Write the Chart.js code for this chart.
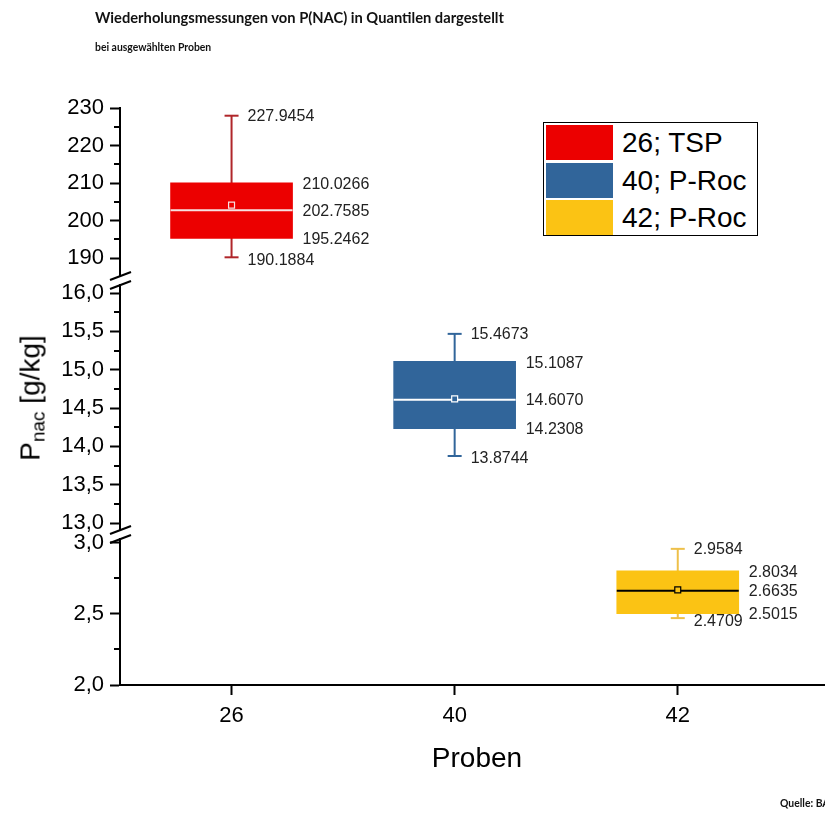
<!DOCTYPE html>
<html>
<head>
<meta charset="utf-8">
<title>Wiederholungsmessungen von P(NAC)</title>
<script src="https://cdn.jsdelivr.net/npm/chart.js@4.4.1/dist/chart.umd.min.js"></script>
<style>
  html, body { margin: 0; padding: 0; background: #fff; overflow: hidden; }
  body { width: 825px; height: 814px; position: relative; font-family: "Liberation Sans", Arial, sans-serif; }
  #wrap { position: absolute; left: 0; top: 0; width: 825px; height: 814px; }
  .title { position: absolute; left: 95px; top: 8px; font: 700 14.7px Lato, "Open Sans", sans-serif; color: #111; white-space: nowrap; }
  .subtitle { position: absolute; left: 95px; top: 41px; font: 700 10.4px Lato, "Open Sans", sans-serif; color: #111; white-space: nowrap; }
  .source { position: absolute; left: 780px; top: 797px; font: 700 10.4px Lato, "Open Sans", sans-serif; color: #111; white-space: nowrap; }
  .xtitle { position: absolute; left: 477px; top: 758px; transform: translate(-50%, -50%); font-size: 28px; color: #000; white-space: nowrap; }
  .ytitle { position: absolute; left: 32px; top: 398px; transform: translate(-50%, -50%) rotate(-90deg); font-size: 28px; color: #000; white-space: nowrap; }
  .ytitle sub { font-size: 19px; vertical-align: -5px; }
  #legend { position: absolute; left: 543px; top: 122px; width: 213px; height: 112px; border: 1.5px solid #000; background: #fff; }
  .row { position: absolute; left: 2px; height: 35px; width: 210px; }
  .swatch { position: absolute; left: 0; top: 0; width: 67px; height: 35px; }
  .label { position: absolute; left: 76px; top: 0; line-height: 35px; font-size: 28px; color: #000; white-space: nowrap; }
</style>
</head>
<body>
<div id="wrap"><canvas id="chart"></canvas></div>
<div class="title">Wiederholungsmessungen von P(NAC) in Quantilen dargestellt</div>
<div class="subtitle">bei ausgewählten Proben</div>
<div class="ytitle">P<sub>nac</sub> [g/kg]</div>
<div class="xtitle">Proben</div>
<div id="legend"></div>
<div class="source">Quelle: BA</div>
<script>
// values
const samples = ["26", "40", "42"];
const sampleNames = ["26; TSP", "40; P-Roc", "42; P-Roc"];
const whiskerLow = [190.1884, 13.8744, 2.4709];
const quartile1 = [195.2462, 14.2308, 2.5015];
const medians = [202.7585, 14.6070, 2.6635];
const quartile3 = [210.0266, 15.1087, 2.8034];
const whiskerHigh = [227.9454, 15.4673, 2.9584];
const means = [204.1, 14.62, 2.67];

const topTicks = [190, 200, 210, 220, 230];
const topMinor = [195, 205, 215, 225];
const midTicks = [13.0, 13.5, 14.0, 14.5, 15.0, 15.5, 16.0];
const midMinor = [13.25, 13.75, 14.25, 14.75, 15.25, 15.75];
const lowTicks = [2.0, 2.5, 3.0];
const lowMinor = [2.25, 2.75];

const boxColors = ["#ec0000", "#31659a", "#fbc314"];
const whiskerColors = ["#b0262a", "#31659a", "#eec04a"];
const medianColors = ["#f6e0e0", "#ffffff", "#000000"];
const axisIds = ["yTop", "yMid", "yLow"];

const BOX_W = 122;
const CAP_R = 7;

function commaFmt(v) {
  return v.toFixed(1).replace(".", ",");
}

// legend
const legend = document.getElementById("legend");
sampleNames.forEach((name, i) => {
  const row = document.createElement("div");
  row.className = "row";
  row.style.top = `${2 + i * 37.5}px`;
  row.innerHTML = `<div class="swatch" style="background:${boxColors[i]}"></div><div class="label">${name}</div>`;
  legend.appendChild(row);
});

const datasets = [];
samples.forEach((s, i) => {
  // whisker stem with caps
  datasets.push({
    type: "line",
    yAxisID: axisIds[i],
    data: [{ x: i, y: whiskerLow[i] }, { x: i, y: whiskerHigh[i] }],
    borderColor: whiskerColors[i],
    borderWidth: 2,
    pointStyle: "line",
    pointRadius: CAP_R,
    pointBorderColor: whiskerColors[i],
    pointBorderWidth: 2,
    order: 3,
  });
  // box
  datasets.push({
    type: "bar",
    yAxisID: axisIds[i],
    data: [{ x: i, y: [quartile1[i], quartile3[i]] }],
    backgroundColor: boxColors[i],
    borderWidth: 0,
    barThickness: BOX_W,
    grouped: false,
    order: 2,
  });
  // median + mean marker
  datasets.push({
    type: "line",
    yAxisID: axisIds[i],
    showLine: false,
    data: [{ x: i, y: medians[i] }, { x: i, y: means[i] }],
    pointStyle: ["line", "rect"],
    pointRadius: [BOX_W / 2, 4.2],
    pointBorderColor: medianColors[i],
    pointBackgroundColor: boxColors[i],
    pointBorderWidth: [2, 1.2],
    order: 1,
  });
});

function yScale(ticks, fmt, min, max, weight) {
  return {
    type: "linear",
    position: "left",
    stack: "ybreak",
    stackWeight: weight,
    min,
    max,
    border: { display: true, color: "#000", width: 2 },
    grid: { display: true, drawOnChartArea: false, drawTicks: true, tickLength: 10, tickWidth: 2, tickColor: "#000" },
    ticks: { color: "#000", font: { family: "'Liberation Sans', Arial", size: 22 }, padding: 6, autoSkip: false, callback: fmt },
    afterBuildTicks: (scale) => { scale.ticks = ticks.map((v) => ({ value: v })); },
    afterFit: (scale) => { scale.width = 120; },
  };
}

const extras = {
  id: "extras",
  afterDraw(chart) {
    const ctx = chart.ctx;
    const xs = chart.scales.x;
    const left = chart.chartArea.left;
    ctx.save();
    // minor ticks
    ctx.strokeStyle = "#000";
    ctx.lineWidth = 2;
    [[topMinor, "yTop"], [midMinor, "yMid"], [lowMinor, "yLow"]].forEach(([vals, id]) => {
      vals.forEach((v) => {
        const y = Math.round(chart.scales[id].getPixelForValue(v));
        ctx.beginPath();
        ctx.moveTo(left - 6, y);
        ctx.lineTo(left, y);
        ctx.stroke();
      });
    });
    // axis breaks
    const breaks = [[276, 285], [530, 539]];
    breaks.forEach(([s1, s2]) => {
      ctx.fillStyle = "#fff";
      ctx.fillRect(left - 5, s1 + 1, 10, s2 - s1 - 2);
      ctx.strokeStyle = "#000";
      ctx.lineWidth = 2;
      [s1, s2].forEach((y) => {
        ctx.beginPath();
        ctx.moveTo(left - 10, y + 4);
        ctx.lineTo(left + 11, y - 4);
        ctx.stroke();
      });
    });
    // value labels
    ctx.fillStyle = "#222";
    ctx.font = "16px 'Liberation Sans', Arial";
    ctx.textBaseline = "middle";
    ctx.textAlign = "left";
    samples.forEach((s, i) => {
      const ys = chart.scales[axisIds[i]];
      const cx = xs.getPixelForValue(i);
      const capX = cx + CAP_R + 9;
      const boxX = cx + BOX_W / 2 + 10;
      ctx.fillText(whiskerHigh[i].toFixed(4), capX, ys.getPixelForValue(whiskerHigh[i]) + 1);
      ctx.fillText(quartile3[i].toFixed(4), boxX, ys.getPixelForValue(quartile3[i]) + 2);
      ctx.fillText(medians[i].toFixed(4), boxX, ys.getPixelForValue(medians[i]) + 1);
      ctx.fillText(quartile1[i].toFixed(4), boxX, ys.getPixelForValue(quartile1[i]) + 1);
      ctx.fillText(whiskerLow[i].toFixed(4), capX, ys.getPixelForValue(whiskerLow[i]) + 3);
    });
    ctx.restore();
  },
};

new Chart(document.getElementById("chart"), {
  type: "bar",
  data: { datasets },
  plugins: [extras],
  options: {
    responsive: true,
    maintainAspectRatio: false,
    animation: false,
    events: [],
    layout: { autoPadding: false, padding: { top: 108, left: 0, right: 0, bottom: 0 } },
    plugins: { legend: { display: false }, tooltip: { enabled: false } },
    scales: {
      x: {
        type: "linear",
        position: "bottom",
        offset: false,
        min: -0.5,
        max: 2.66,
        border: { display: true, color: "#000", width: 2 },
        grid: { display: true, offset: false, drawOnChartArea: false, drawTicks: true, tickLength: 10, tickWidth: 2, tickColor: "#000" },
        ticks: {
          color: "#000",
          font: { family: "'Liberation Sans', Arial", size: 22 },
          padding: 8,
          maxRotation: 0,
          callback: (v) => samples[v] ?? "",
        },
        afterBuildTicks: (scale) => { scale.ticks = samples.map((_, i) => ({ value: i })); },
        afterFit: (scale) => { scale.height = 129; scale.paddingRight = 0; scale.paddingLeft = 0; },
      },
      yLow: yScale(lowTicks, (v) => commaFmt(v), 2.0, 3.063, 151),
      yMid: yScale(midTicks, (v) => commaFmt(v), 12.857, 16.196, 256),
      yTop: yScale(topTicks, (v) => String(v), 184.67, 230, 170),
    },
  },
});
</script>
</body>
</html>
